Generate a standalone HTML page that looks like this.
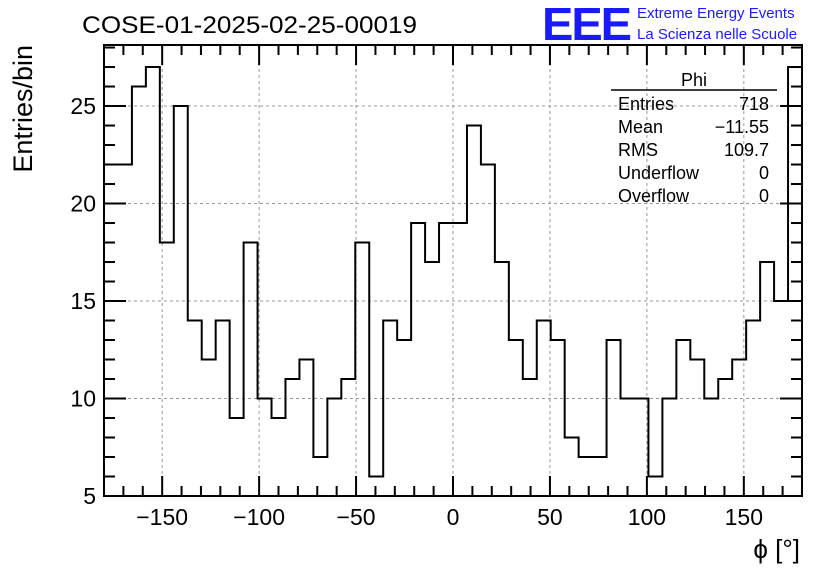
<!DOCTYPE html>
<html><head><meta charset="utf-8"><style>
body{margin:0;background:#fff;}
svg{display:block;font-family:"Liberation Sans",sans-serif;}
</style></head><body>
<svg id="c" width="836" height="572">
<text x="82" y="33" font-size="24" textLength="335" lengthAdjust="spacingAndGlyphs">COSE-01-2025-02-25-00019</text>
<g>
<text x="542" y="40" font-size="46" fill="#1a1aff" font-weight="bold" letter-spacing="-2" textLength="88" lengthAdjust="spacingAndGlyphs">EEE</text>
<text x="637" y="18" font-size="15" fill="#1a1aff">Extreme Energy Events</text>
<text x="637" y="39" font-size="15" fill="#1a1aff">La Scienza nelle Scuole</text>
</g>
<g id="grid"></g>
<path id="hist" fill="none" stroke="#000" stroke-width="2"></path>
<g id="axes"></g>
<rect x="104" y="45" width="698" height="451" fill="none" stroke="#000" stroke-width="2"/>
<text x="32" y="45" font-size="27" transform="rotate(-90 32 45)" text-anchor="end">Entries/bin</text>
<text x="800" y="558" font-size="26" text-anchor="end">ϕ [°]</text>
<g font-size="18">
<line x1="611" y1="90" x2="777" y2="90" stroke="#000" stroke-width="1.5"/>
<text x="694" y="86" text-anchor="middle">Phi</text>
<text x="618" y="110">Entries</text><text x="769" y="110" text-anchor="end">718</text>
<text x="618" y="133">Mean</text><text x="769" y="133" text-anchor="end">−11.55</text>
<text x="618" y="156">RMS</text><text x="769" y="156" text-anchor="end">109.7</text>
<text x="618" y="179">Underflow</text><text x="769" y="179" text-anchor="end">0</text>
<text x="618" y="202">Overflow</text><text x="769" y="202" text-anchor="end">0</text>
</g>
</svg>
<script>
const counts=[22,22,26,27,18,25,14,12,14,9,18,10,9,11,12,7,10,11,18,6,14,13,19,17,19,19,24,22,17,13,11,14,13,8,7,7,13,10,10,6,10,13,12,10,11,12,14,17,15,27];
const xTicks=[-150,-100,-50,0,50,100,150];
const yTicks=[5,10,15,20,25];
const xMin=-180,xMax=180,yMin=5,yMax=28.13;
const L=104,R=802,T=45,B=496;
const sx=v=>L+(v-xMin)/(xMax-xMin)*(R-L);
const sy=v=>B-(v-yMin)/(yMax-yMin)*(B-T);
const NS="http://www.w3.org/2000/svg";
function mk(tag,attrs,parent){const e=document.createElementNS(NS,tag);for(const k in attrs)e.setAttribute(k,attrs[k]);parent.appendChild(e);return e;}
const grid=document.getElementById('grid'),axes=document.getElementById('axes');
const w=(xMax-xMin)/counts.length;
let d="";
counts.forEach((c,i)=>{const x0=sx(xMin+i*w),x1=sx(xMin+(i+1)*w),y=sy(Math.max(c,yMin));d+=(i===0?"M":"L")+x0+","+y+"L"+x1+","+y;});
document.getElementById('hist').setAttribute('d',d);
xTicks.forEach(v=>{
 const g=mk('line',{x1:sx(v),x2:sx(v),y1:T,y2:B,stroke:'#999','stroke-dasharray':'3,3','stroke-width':1},grid);
 
 
 const t=mk('text',{x:sx(v),y:525,'font-size':23,'text-anchor':'middle'},axes);
 t.textContent=v<0?'−'+Math.abs(v):String(v);
 
 
});
yTicks.forEach(v=>{
 if(v>yMin){const g=mk('line',{x1:L,x2:R,y1:sy(v),y2:sy(v),stroke:'#999','stroke-dasharray':'3,3','stroke-width':1},grid);
 
 }
 const t=mk('text',{x:96,y:sy(v)+8,'font-size':23,'text-anchor':'end'},axes);
 t.textContent=String(v);
 
 
});
for(let v=xMin;v<=xMax;v+=10){const major=v%50===0;const len=major?20:10;
 mk('line',{x1:sx(v),x2:sx(v),y1:B,y2:B-len,stroke:'#000','stroke-width':2},axes);
 mk('line',{x1:sx(v),x2:sx(v),y1:T,y2:T+len,stroke:'#000','stroke-width':2},axes);}
for(let v=yMin;v<=28;v+=1){const major=v%5===0;const len=major?22:11;
 mk('line',{x1:L,x2:L+len,y1:sy(v),y2:sy(v),stroke:'#000','stroke-width':2},axes);
 mk('line',{x1:R,x2:R-len,y1:sy(v),y2:sy(v),stroke:'#000','stroke-width':2},axes);}
</script>
</body></html>
